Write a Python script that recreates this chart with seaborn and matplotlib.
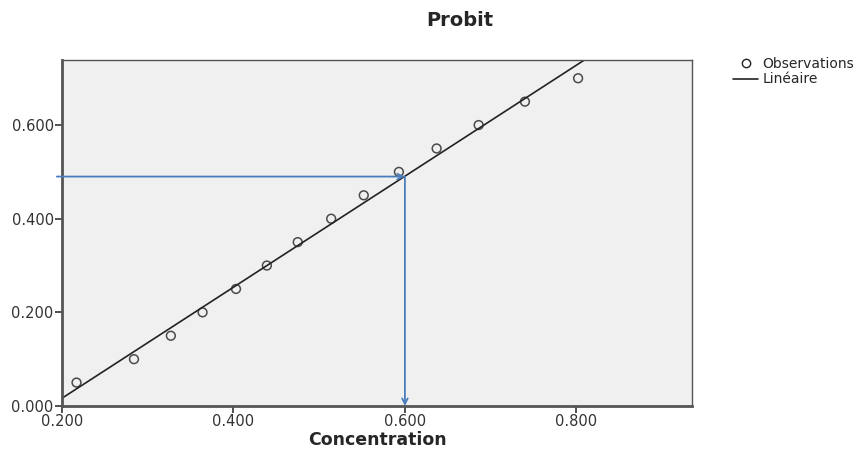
import numpy as np
import pandas as pd
import seaborn as sns
import matplotlib.pyplot as plt
from matplotlib.lines import Line2D

# observations
concentration = [0.217, 0.284, 0.327, 0.364, 0.403, 0.439, 0.475,
                 0.514, 0.552, 0.593, 0.637, 0.686, 0.740, 0.802]
probit = [0.05, 0.10, 0.15, 0.20, 0.25, 0.30, 0.35,
          0.40, 0.45, 0.50, 0.55, 0.60, 0.65, 0.70]
x_ticks = [0.2, 0.4, 0.6, 0.8]
y_ticks = [0.0, 0.2, 0.4, 0.6]
# reading for 50% effect
target_y = 0.49
target_x = 0.60

df = pd.DataFrame({'Concentration': concentration, 'Probit': probit})

sns.set_style('ticks')
plt.rcParams['font.family'] = ['DejaVu Sans']

fig = plt.figure(figsize=(8.63, 4.49), dpi=100)
ax = fig.add_axes([0.0718, 0.0958, 0.7302, 0.7706])
ax.set_facecolor('#f0f0f0')

sns.regplot(data=df, x='Concentration', y='Probit', ci=None, truncate=False, ax=ax,
            scatter_kws={'facecolors': 'none', 'edgecolors': '#222222', 's': 40, 'linewidths': 1.1},
            line_kws={'color': '#222222', 'lw': 1.2})

ax.set_xlim(0.2, 0.935)
ax.set_ylim(0.0, 0.739)
ax.set_xticks(x_ticks)
ax.set_yticks(y_ticks)
ax.set_xticklabels([f'{v:.3f}' for v in x_ticks], fontsize=10.5, color='#333333')
ax.set_yticklabels([f'{v:.3f}' for v in y_ticks], fontsize=10.5, color='#333333')
ax.tick_params(direction='out', length=5, width=1.2, color='#333333', pad=1)
for s in ax.spines.values():
    s.set_color('#555555')
    s.set_linewidth(1.0)
ax.spines['left'].set_linewidth(2)
ax.spines['bottom'].set_linewidth(2)

ax.set_xlabel('Concentration', fontsize=12.5, fontweight='bold', labelpad=1)
ax.set_ylabel('')

# blue reading arrows
blue = '#4a7ebb'
ax.annotate('', xy=(target_x, target_y), xytext=(0.194, target_y),
            arrowprops=dict(arrowstyle='->', color=blue, lw=1.3, shrinkA=0, shrinkB=0),
            annotation_clip=False)
ax.annotate('', xy=(target_x, 0.0), xytext=(target_x, target_y),
            arrowprops=dict(arrowstyle='->', color=blue, lw=1.3, shrinkA=0, shrinkB=0),
            annotation_clip=False)

fig.text(460 / 863, 1 - 20 / 449, 'Probit', ha='center', va='center',
         fontsize=14, fontweight='bold')

handles = [Line2D([], [], marker='o', ls='none', mfc='none', mec='#222222', ms=6),
           Line2D([], [], color='#222222', lw=1.2)]
fig.legend(handles, ['Observations', 'Linéaire'], loc='upper left',
           bbox_to_anchor=(733 / 863, 1 - 57 / 449), frameon=False,
           fontsize=10, handlelength=1.8, handletextpad=0.3, labelspacing=0.1,
           borderpad=0, borderaxespad=0)

fig.savefig('out.png', dpi=100)
